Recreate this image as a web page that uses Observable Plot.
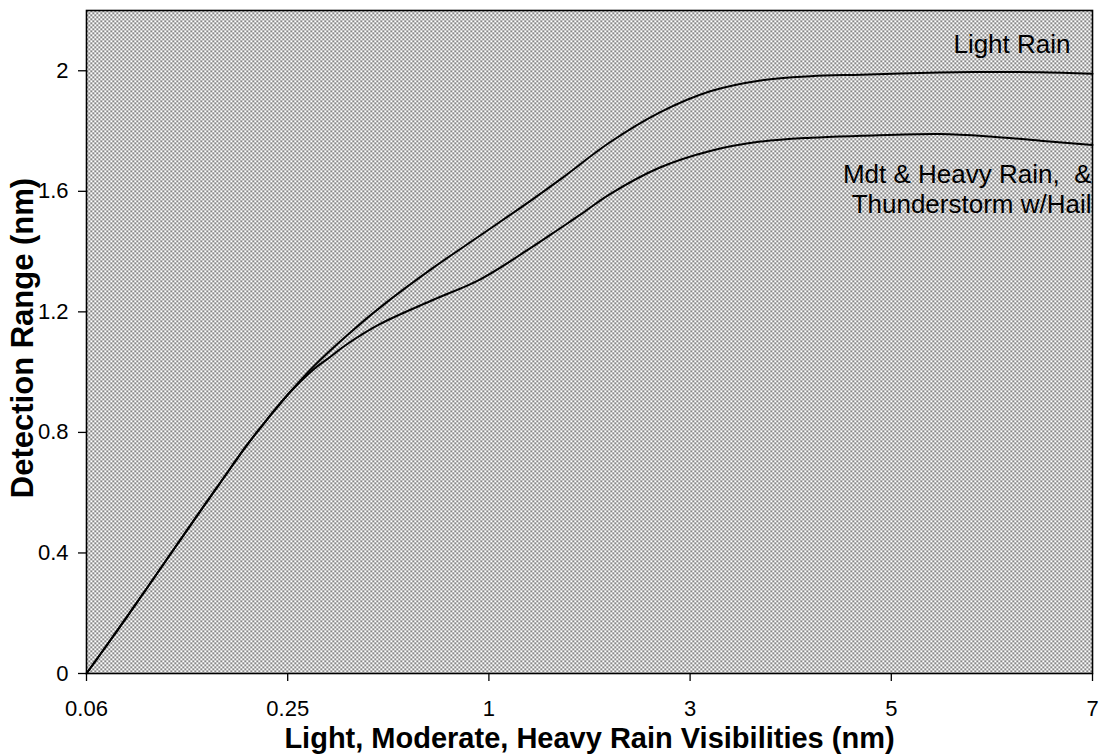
<!DOCTYPE html>
<html>
<head>
<meta charset="utf-8">
<script src="https://cdn.jsdelivr.net/npm/d3@7"></script>
<script src="https://cdn.jsdelivr.net/npm/@observablehq/plot@0.6"></script>
<style>
  html, body { margin: 0; padding: 0; background: #ffffff; }
  #chart svg { display: block; }
  #chart svg g[aria-label="x-axis tick label"] text,
  #chart svg g[aria-label="y-axis tick label"] text { font-size: 22px; }
</style>
</head>
<body>
<div id="chart"></div>
<script>
// Category tick labels of the x axis (evenly spaced categories)
const xTickLabels = ["0.06", "0.25", "1", "3", "5", "7"];
const yTicks = [0, 0.4, 0.8, 1.2, 1.6, 2.0];

// Light Rain curve: position along the category axis (0 = "0.06" ... 5 = "7") and range (nm)
const lightPos   = [0, 0.15, 0.30, 0.53, 0.67, 0.80, 0.90, 1.00, 1.13, 1.30, 1.46, 1.71, 1.96, 2.21, 2.36, 2.60, 2.85, 3.10, 3.35, 3.60, 3.85, 4.24, 4.49, 4.74, 5.00];
const lightRange = [0, 0.14, 0.283, 0.505, 0.638, 0.76, 0.845, 0.925, 1.02, 1.125, 1.215, 1.34, 1.455, 1.57, 1.642, 1.762, 1.862, 1.932, 1.968, 1.982, 1.987, 1.994, 1.996, 1.995, 1.99];

// Moderate & Heavy Rain, & Thunderstorm w/Hail curve
const heavyPos   = [0, 0.15, 0.30, 0.53, 0.67, 0.80, 0.90, 1.00, 1.13, 1.20, 1.30, 1.46, 1.71, 1.96, 2.21, 2.36, 2.46, 2.60, 2.85, 3.10, 3.35, 3.60, 3.85, 4.24, 4.49, 4.74, 5.00];
const heavyRange = [0, 0.14, 0.283, 0.505, 0.638, 0.76, 0.845, 0.925, 1.01, 1.045, 1.095, 1.16, 1.236, 1.309, 1.413, 1.48, 1.525, 1.59, 1.679, 1.734, 1.765, 1.778, 1.784, 1.79, 1.782, 1.768, 1.754];

// Series labels
const seriesLabels = ["Light Rain", "Mdt & Heavy Rain,\u00a0\u00a0&\nThunderstorm w/Hail"];
const seriesLabelY = [2.085, 1.611];

const xTitle = "Light, Moderate, Heavy Rain Visibilities (nm)";
const yTitle = "Detection Range (nm)";

const light = lightPos.map((p, i) => ({pos: p, range: lightRange[i]}));
const heavy = heavyPos.map((p, i) => ({pos: p, range: heavyRange[i]}));
const labels = seriesLabels.map((t, i) => ({text: t, y: seriesLabelY[i], pos: xTickLabels.length - 1}));

const font = "'Liberation Sans', Arial, Helvetica, sans-serif";

const svg = Plot.plot({
  width: 1102,
  height: 755,
  marginLeft: 86,
  marginRight: 10,
  marginTop: 10,
  marginBottom: 82,
  style: {fontFamily: font, fontSize: "22px", color: "#000", background: "#fff", overflow: "visible"},
  x: {domain: [0, xTickLabels.length - 1]},
  y: {domain: [0, 2.2]},
  marks: [
    Plot.frame({fill: "url(#dotpattern)"}),
    Plot.axisX({
      ticks: d3.range(xTickLabels.length),
      tickFormat: i => xTickLabels[i],
      tickSize: 8, tickPadding: 19, label: null, stroke: "#000", strokeWidth: 1.3
    }),
    Plot.axisY({
      ticks: yTicks,
      tickFormat: d => d3.format("~g")(d),
      tickSize: 8, tickPadding: 10, label: null, stroke: "#000", strokeWidth: 1.3
    }),
    Plot.line(light, {x: "pos", y: "range", stroke: "#000", strokeWidth: 2, curve: "catmull-rom"}),
    Plot.line(heavy, {x: "pos", y: "range", stroke: "#000", strokeWidth: 2, curve: "catmull-rom"}),
    Plot.text(labels.slice(0, 1), {
      x: "pos", y: "y", text: "text", dx: -22,
      textAnchor: "end", lineAnchor: "middle", fontSize: 26, fill: "#000"
    }),
    Plot.text(labels.slice(1), {
      x: "pos", y: "y", text: "text", dx: -1,
      textAnchor: "end", lineAnchor: "middle", lineHeight: 1.17, fontSize: 26, fill: "#000"
    }),
    Plot.text([xTitle], {
      text: d => d, frameAnchor: "bottom", textAnchor: "middle", lineAnchor: "middle", dy: 65,
      fontSize: 29, fontWeight: "bold", fill: "#000"
    }),
    Plot.text([yTitle], {
      text: d => d, frameAnchor: "left", textAnchor: "middle", lineAnchor: "middle", dx: -63, dy: -4, rotate: -90,
      fontSize: 31, fontWeight: "bold", fill: "#000"
    }),
    Plot.frame({stroke: "#000", strokeWidth: 1.6})
  ]
});

// dotted halftone background pattern
const defs = d3.select(svg).insert("defs", ":first-child");
const pat = defs.append("pattern")
  .attr("id", "dotpattern")
  .attr("patternUnits", "userSpaceOnUse")
  .attr("width", 4).attr("height", 4);
pat.append("rect").attr("width", 4).attr("height", 4).attr("fill", "#ffffff");
pat.append("rect").attr("x", 0).attr("y", 0).attr("width", 1.5).attr("height", 1.5).attr("fill", "#2a2a2a");
pat.append("rect").attr("x", 2).attr("y", 2).attr("width", 1.5).attr("height", 1.5).attr("fill", "#2a2a2a");

document.getElementById("chart").appendChild(svg);
</script>
</body>
</html>
